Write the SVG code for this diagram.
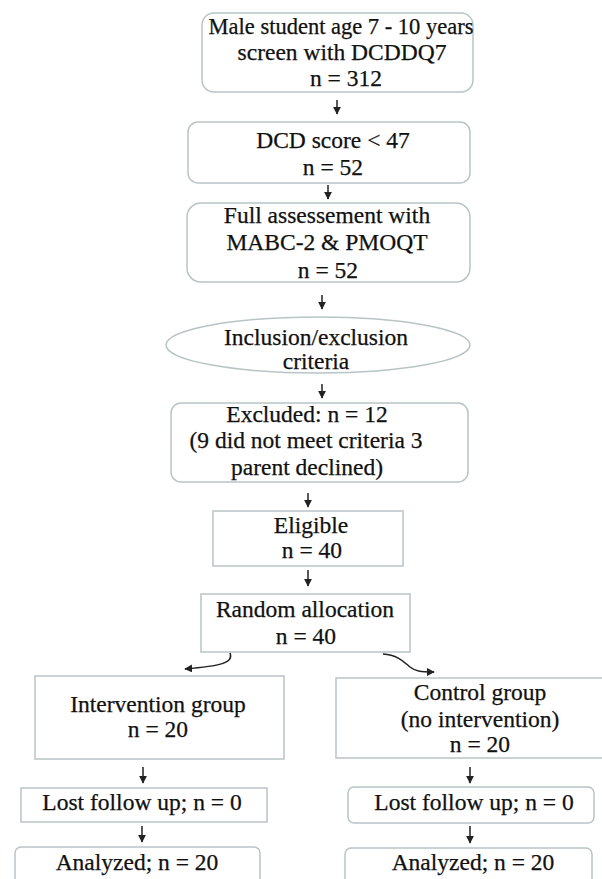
<svg xmlns="http://www.w3.org/2000/svg" width="602" height="879" viewBox="0 0 602 879">
<defs>
<marker id="ah" viewBox="0 0 10 10" refX="9" refY="5" markerWidth="8" markerHeight="8" markerUnits="userSpaceOnUse" orient="auto">
<path d="M0,0 L10,5 L0,10 z" fill="#222"/>
</marker>
<style>
.box{fill:#fff;stroke:#b9c4c5;stroke-width:1.5}
.t{font-family:"Liberation Serif","DejaVu Serif",serif;font-size:23.5px;fill:#111;stroke:#111;stroke-width:0.25;text-anchor:middle}
.s{font-size:22.5px}
.c{fill:none;stroke:#222;stroke-width:1.5;marker-end:url(#ah)}
</style>
</defs>
<rect width="602" height="879" fill="#fff"/>
<g id="n1"><rect class="box" x="202" y="13" width="271" height="79" rx="12"/>
<text class="t s" x="341" y="34">Male student age 7 - 10 years</text>
<text class="t" x="342" y="60">screen with DCDDQ7</text>
<text class="t" x="346" y="86">n = 312</text></g>
<g id="n2"><rect class="box" x="188" y="122" width="282" height="61" rx="10"/>
<text class="t" x="333" y="148">DCD score &lt; 47</text>
<text class="t" x="333" y="175">n = 52</text></g>
<g id="n3"><rect class="box" x="187" y="203" width="283" height="79" rx="14"/>
<text class="t" x="327" y="223">Full assessement with</text>
<text class="t" x="327" y="250">MABC-2 &amp; PMOQT</text>
<text class="t" x="328" y="278">n = 52</text></g>
<g id="n4"><ellipse class="box" cx="318" cy="345" rx="152" ry="28"/>
<text class="t" x="316" y="345">Inclusion/exclusion</text>
<text class="t" x="316" y="369">criteria</text></g>
<g id="n5"><rect class="box" x="171" y="403" width="297" height="79" rx="10"/>
<text class="t" x="307" y="422">Excluded: n = 12</text>
<text class="t" x="306" y="448">(9 did not meet criteria 3</text>
<text class="t" x="307" y="475">parent declined)</text></g>
<g id="n6"><rect class="box" x="213" y="511" width="190" height="55"/>
<text class="t" x="311" y="533">Eligible</text>
<text class="t" x="312" y="558">n = 40</text></g>
<g id="n7"><rect class="box" x="201" y="594" width="209" height="58"/>
<text class="t" x="305" y="617">Random allocation</text>
<text class="t" x="306" y="644">n = 40</text></g>
<g id="n8"><rect class="box" x="35" y="676" width="249" height="83"/>
<text class="t" x="158" y="712">Intervention group</text>
<text class="t" x="158" y="737">n = 20</text></g>
<g id="n9"><rect class="box" x="336" y="678" width="272" height="80"/>
<text class="t" x="480" y="700">Control group</text>
<text class="t" x="480" y="727">(no intervention)</text>
<text class="t" x="480" y="752">n = 20</text></g>
<g id="n10"><rect class="box" x="21" y="788" width="246" height="34"/>
<text class="t" x="142" y="810">Lost follow up; n = 0</text></g>
<g id="n11"><rect class="box" x="348" y="787" width="246" height="36" rx="6"/>
<text class="t" x="474" y="810">Lost follow up; n = 0</text></g>
<g id="n12"><rect class="box" x="15" y="847" width="245" height="42" rx="6"/>
<text class="t" x="137" y="870">Analyzed; n = 20</text></g>
<g id="n13"><rect class="box" x="345" y="848" width="247" height="42" rx="6"/>
<text class="t" x="473" y="870">Analyzed; n = 20</text></g>
<g id="connectors">
<path class="c" d="M337,100 V114"/>
<path class="c" d="M328,185 V199"/>
<path class="c" d="M322,295 V309"/>
<path class="c" d="M322,384 V398"/>
<path class="c" d="M308,493 V507"/>
<path class="c" d="M308,570 V586"/>
<path class="c" d="M230,653 C234,663 220,666 185,669"/>
<path class="c" d="M383,654 C398,655 404,662 410,667 C415,671 420,672 434,672"/>
<path class="c" d="M143,767 V783"/>
<path class="c" d="M142,826 V842"/>
<path class="c" d="M470,767 V783"/>
<path class="c" d="M470,826 V843"/>
</g>
</svg>
